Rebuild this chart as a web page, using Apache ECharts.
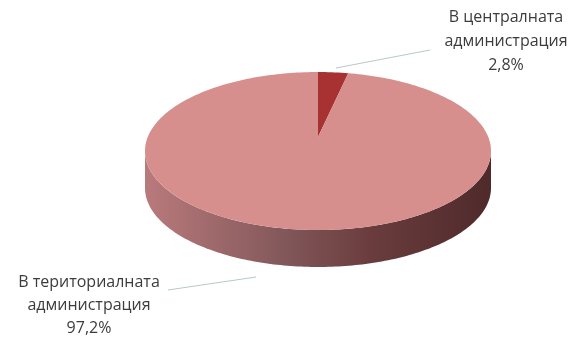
<!DOCTYPE html>
<html>
<head>
    <meta charset='utf-8'>
    <script src='https://cdn.jsdelivr.net/npm/echarts@6/dist/echarts.min.js'></script>
    <style>
        html, body, #main {
            width: 100%;
            height: 100%;
            margin: 0;
            background: #fff;
        }
    </style>
</head>
<body>
<div id='main'></div>
<script>
    // data
    var categories = ['В централната администрация', 'В териториалната администрация'];
    var values = [2.8, 97.2];
    var labelText = ['2,8%', '97,2%'];

    // layout of the "3d" pie (apex a bit above the ellipse centre, like excel's perspective)
    var cx = 318, cy = 151, rx = 173, ry = 79, depth = 37, apexY = 137;
    var topColors = ['#a83232', '#d68f8d'];
    var total = values.reduce(function (a, b) { return a + b; }, 0);

    function pt(a, dy) {
        return [cx + rx * Math.sin(a), cy - ry * Math.cos(a) + (dy || 0)];
    }
    function arc(a1, a2, dy) {
        var pts = [];
        var n = Math.max(2, Math.ceil((a2 - a1) / 0.02));
        for (var i = 0; i <= n; i++) {
            pts.push(pt(a1 + (a2 - a1) * i / n, dy));
        }
        return pts;
    }

    var myChart = echarts.init(document.getElementById('main'));
    myChart.setOption({
        animation: false,
        series: [{
            type: 'custom',
            coordinateSystem: 'none',
            data: values.map(function (v, i) { return [i, v]; }),
            renderItem: function (params, api) {
                var idx = params.dataIndex;
                var before = 0;
                for (var i = 0; i < idx; i++) before += values[i];
                var a1 = before / total * Math.PI * 2;
                var a2 = (before + values[idx]) / total * Math.PI * 2;
                var children = [];

                // front side wall
                var s1 = Math.max(a1, Math.PI / 2), s2 = Math.min(a2, Math.PI * 1.5);
                if (s2 > s1) {
                    var side = arc(s1, s2, 0).concat(arc(s1, s2, depth).reverse());
                    children.push({
                        type: 'polygon',
                        z2: 1,
                        shape: { points: side },
                        style: {
                            fill: new echarts.graphic.LinearGradient(1, 0, 0, 0, [
                                { offset: 0, color: '#4f2a2b' },
                                { offset: 0.35, color: '#6a3c3d' },
                                { offset: 0.6, color: '#83585a' },
                                { offset: 1, color: '#b97a7c' }
                            ])
                        }
                    });
                }

                // top face
                children.push({
                    type: 'polygon',
                    z2: 2,
                    shape: { points: [[cx, apexY]].concat(arc(a1, a2, 0)) },
                    style: { fill: topColors[idx] }
                });
                return { type: 'group', children: children };
            }
        }],
        graphic: [
            {
                type: 'line',
                shape: { x1: 336, y1: 68, x2: 430, y2: 50 },
                style: { stroke: '#b8c8c8', lineWidth: 1 }
            },
            {
                type: 'line',
                shape: { x1: 168, y1: 290, x2: 256, y2: 277 },
                style: { stroke: '#b8c8c8', lineWidth: 1 }
            },
            {
                type: 'text',
                x: 506, y: 41,
                style: {
                    text: 'В централната\nадминистрация\n' + labelText[0],
                    align: 'center', verticalAlign: 'middle',
                    font: '16px "Open Sans"', lineHeight: 24, fill: '#3c3c3c'
                }
            },
            {
                type: 'text',
                x: 89, y: 305,
                style: {
                    text: 'В териториалната\nадминистрация\n' + labelText[1],
                    align: 'center', verticalAlign: 'middle',
                    font: '16px "Open Sans"', lineHeight: 23, fill: '#3c3c3c'
                }
            }
        ]
    });
</script>
</body>
</html>
